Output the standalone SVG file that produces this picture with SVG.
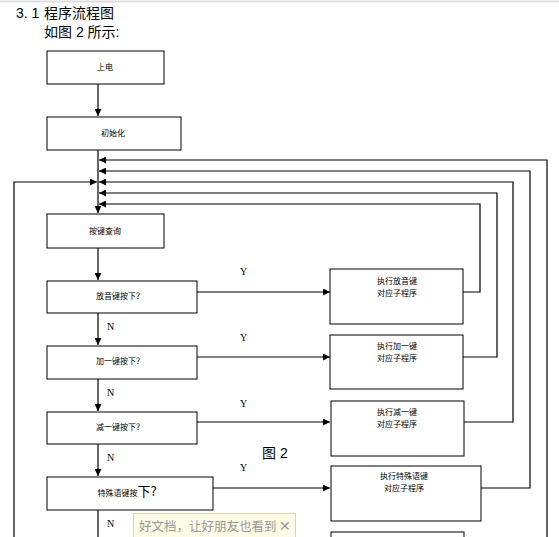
<svg xmlns="http://www.w3.org/2000/svg" width="559" height="537" viewBox="0 0 559 537">
<style>
.box{fill:#fff;stroke:#000;stroke-width:1}
.ln{fill:none;stroke:#000;stroke-width:1.2}
.t{font-family:"Noto Sans CJK SC","Liberation Sans",sans-serif;font-size:8px;fill:#000;text-anchor:middle}
.yn{font-family:"Liberation Serif",serif;font-size:10px;fill:#000}
.h{font-family:"Liberation Sans","Noto Sans CJK SC",sans-serif;font-size:14px;fill:#000}
</style>
<defs>
<marker id="a" viewBox="0 0 10 10" refX="10" refY="5" markerWidth="7" markerHeight="7" markerUnits="userSpaceOnUse" orient="auto"><path d="M0,0L10,5L0,10z" fill="#000"/></marker>
</defs>
<rect width="559" height="537" fill="#fff"/>
<line x1="0" y1="1.5" x2="559" y2="1.5" stroke="#ddd" stroke-width="2"/>
<text class="h" x="16" y="18">3. 1</text>
<text class="h" x="44" y="18" fill="#1a1a40">程序流程图</text>
<text class="h" x="44" y="37">如图 2 所示:</text>
<text class="h" x="262" y="458" font-size="13">图 2</text>

<g id="connectors">
<line class="ln" x1="98" y1="84" x2="98" y2="116" marker-end="url(#a)"/>
<line class="ln" x1="98" y1="150" x2="98" y2="213" marker-end="url(#a)"/>
<polyline class="ln" points="14,537 14,182 97,182" marker-end="url(#a)"/>
<polyline class="ln" points="547,537 547,160 99,160" marker-end="url(#a)"/>
<polyline class="ln" points="481,488 530,488 530,171 99,171" marker-end="url(#a)"/>
<polyline class="ln" points="464,422 513,422 513,182 99,182" marker-end="url(#a)"/>
<polyline class="ln" points="463,357 497,357 497,193 99,193" marker-end="url(#a)"/>
<polyline class="ln" points="463,292 480,292 480,204 99,204" marker-end="url(#a)"/>
<line class="ln" x1="98" y1="248" x2="98" y2="280" marker-end="url(#a)"/>
<line class="ln" x1="98" y1="313" x2="98" y2="345" marker-end="url(#a)"/>
<line class="ln" x1="98" y1="379" x2="98" y2="411" marker-end="url(#a)"/>
<line class="ln" x1="98" y1="444" x2="98" y2="476" marker-end="url(#a)"/>
<line class="ln" x1="98" y1="510" x2="98" y2="537"/>
<line class="ln" x1="197" y1="292" x2="330" y2="292" marker-end="url(#a)"/>
<line class="ln" x1="197" y1="357" x2="330" y2="357" marker-end="url(#a)"/>
<line class="ln" x1="197" y1="422" x2="330" y2="422" marker-end="url(#a)"/>
<line class="ln" x1="213" y1="488" x2="330" y2="488" marker-end="url(#a)"/>
<text class="yn" x="240" y="275">Y</text>
<text class="yn" x="240" y="341">Y</text>
<text class="yn" x="240" y="407">Y</text>
<text class="yn" x="240" y="471">Y</text>
<text class="yn" x="107" y="330">N</text>
<text class="yn" x="107" y="396">N</text>
<text class="yn" x="107" y="461">N</text>
<text class="yn" x="107" y="527">N</text>
</g>

<g id="n-power"><rect class="box" x="47" y="51" width="117" height="33"/><text class="t" x="105" y="70">上电</text></g>
<g id="n-init"><rect class="box" x="47" y="117" width="134" height="33"/><text class="t" x="113" y="136">初始化</text></g>
<g id="n-query"><rect class="box" x="47" y="214" width="117" height="34"/><text class="t" x="105" y="234">按键查询</text></g>
<g id="n-d1"><rect class="box" x="47" y="281" width="150" height="32"/><text class="t" x="120" y="299">放音键按下？</text></g>
<g id="n-d2"><rect class="box" x="47" y="346" width="150" height="33"/><text class="t" x="120" y="364">加一键按下？</text></g>
<g id="n-d3"><rect class="box" x="47" y="412" width="150" height="32"/><text class="t" x="120" y="430">减一键按下？</text></g>
<g id="n-d4"><rect class="box" x="47" y="477" width="166" height="33"/><text class="t" x="127" y="496">特殊语键按<tspan font-size="13">下?</tspan></text></g>
<g id="n-p1"><rect class="box" x="330" y="269" width="133" height="55"/><text class="t" x="397" y="284">执行放音键</text><text class="t" x="397" y="296">对应子程序</text></g>
<g id="n-p2"><rect class="box" x="330" y="335" width="133" height="54"/><text class="t" x="397" y="349">执行加一键</text><text class="t" x="397" y="361">对应子程序</text></g>
<g id="n-p3"><rect class="box" x="331" y="401" width="133" height="55"/><text class="t" x="397" y="415">执行减一键</text><text class="t" x="397" y="427">对应子程序</text></g>
<g id="n-p4"><rect class="box" x="331" y="466" width="150" height="55"/><text class="t" x="404" y="479">执行特殊语键</text><text class="t" x="404" y="491">对应子程序</text></g>
<g id="n-p5"><rect class="box" x="331" y="532" width="133" height="20"/></g>

<g id="toast"><rect x="133.5" y="513.5" width="162" height="26" fill="#fdfbe6" stroke="#d8d4b0"/><text x="139" y="531" font-family="Noto Sans CJK SC,sans-serif" font-size="12.5" fill="#999">好文档，让好朋友也看到 <tspan font-size="14">✕</tspan></text></g>
</svg>
